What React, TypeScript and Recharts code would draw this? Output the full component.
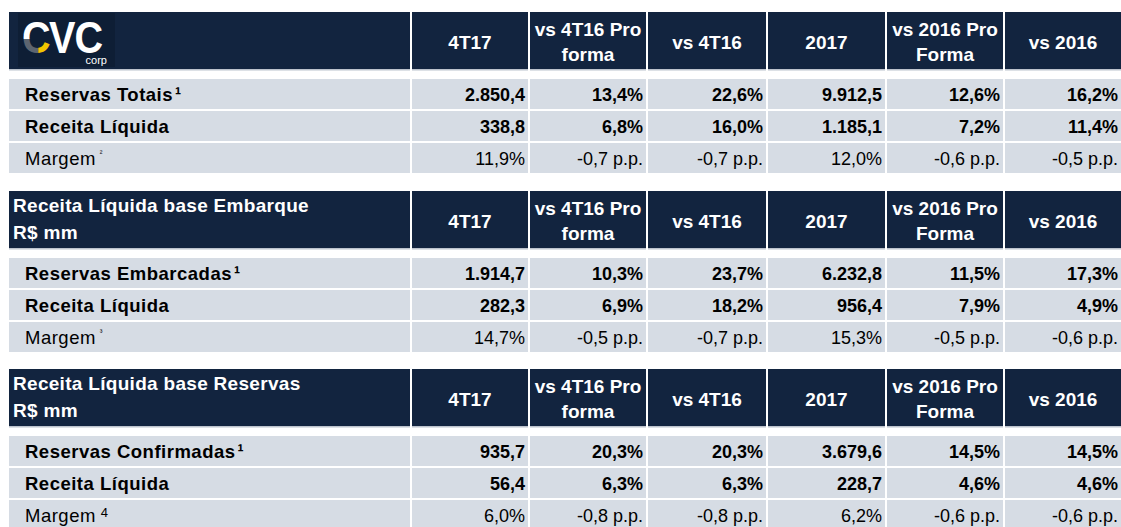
import React from "react";
import { BarChart, Bar, XAxis, YAxis } from "recharts";

// Column headers, same for each block ("|" = line break)
const periodCols = ["4T17", "vs 4T16 Pro|forma", "vs 4T16", "2017", "vs 2016 Pro|Forma", "vs 2016"];

// Block titles (first block carries the logo)
const sectionTitles = ["", "Receita Líquida base Embarque|R$ mm", "Receita Líquida base Reservas|R$ mm"];

// Block 1 - totals
const rowsTotais = ["Reservas Totais", "Receita Líquida", "Margem"];
const notesTotais = ["¹", "", "²"];
const valsTotais = [
  ["2.850,4", "13,4%", "22,6%", "9.912,5", "12,6%", "16,2%"],
  ["338,8", "6,8%", "16,0%", "1.185,1", "7,2%", "11,4%"],
  ["11,9%", "-0,7 p.p.", "-0,7 p.p.", "12,0%", "-0,6 p.p.", "-0,5 p.p."],
];

// Block 2 - base Embarque
const rowsEmbarque = ["Reservas Embarcadas", "Receita Líquida", "Margem"];
const notesEmbarque = ["¹", "", "³"];
const valsEmbarque = [
  ["1.914,7", "10,3%", "23,7%", "6.232,8", "11,5%", "17,3%"],
  ["282,3", "6,9%", "18,2%", "956,4", "7,9%", "4,9%"],
  ["14,7%", "-0,5 p.p.", "-0,7 p.p.", "15,3%", "-0,5 p.p.", "-0,6 p.p."],
];

// Block 3 - base Reservas
const rowsReservas = ["Reservas Confirmadas", "Receita Líquida", "Margem"];
const notesReservas = ["¹", "", "4"];
const valsReservas = [
  ["935,7", "20,3%", "20,3%", "3.679,6", "14,5%", "14,5%"],
  ["56,4", "6,3%", "6,3%", "228,7", "4,6%", "4,6%"],
  ["6,0%", "-0,8 p.p.", "-0,8 p.p.", "6,2%", "-0,6 p.p.", "-0,6 p.p."],
];

const boldRows = [true, true, false];

// layout
const COL_W = [402, 118, 118, 120, 119, 118, 117];
const TABLE_W = COL_W.reduce((a, b) => a + b, 0);
const HEADER_H = 59;
const ROW_H = 32;
const FONT = "'Liberation Sans', Arial, sans-serif";
const NAVY = "#12243f";
const LOGO_BG = "#0e1e35";
const ROW_BG = "#d6dce4";
const noteSizes = [8, 8, 13];

const widthKeys = COL_W.reduce((o: Record<string, number>, w, i) => {
  o[`c${i}`] = w;
  return o;
}, {});

const cellBounds = (col: number, x: number, width: number) => {
  const left = col === 0 ? x : x + 1;
  const right = col === COL_W.length - 1 ? x + width : x + width - 1;
  return { left, w: right - left };
};

const Logo = ({ x, y }: { x: number; y: number }) => {
  const ox = x + 14;
  return (
    <g>
      <defs>
        <clipPath id="cvc-top">
          <rect x={ox} y={y + 8} width={34} height={19} />
        </clipPath>
        <clipPath id="cvc-gray">
          <rect x={ox} y={y + 27} width={17} height={20} />
        </clipPath>
        <clipPath id="cvc-yellow">
          <rect x={ox + 17} y={y + 27} width={17} height={20} />
        </clipPath>
      </defs>
      <rect x={x + 9} y={y + 1} width={97} height={54} fill={LOGO_BG} />
      <g
        fontFamily={FONT}
        fontWeight="bold"
        fontSize={44}
        transform={`translate(${ox},0) scale(0.9,1) translate(${-ox},0)`}
      >
        <text x={ox - 1} y={y + 41} fill="#ffffff" clipPath="url(#cvc-top)">C</text>
        <text x={ox - 1} y={y + 41} fill="#5d6570" clipPath="url(#cvc-gray)">C</text>
        <text x={ox - 1} y={y + 41} fill="#f2c500" clipPath="url(#cvc-yellow)">C</text>
        <text x={ox + 29} y={y + 41} fill="#ffffff" letterSpacing={-1}>VC</text>
      </g>
      <text x={x + 98} y={y + 52} fill="#ffffff" fontFamily={FONT} fontSize={11} textAnchor="end">
        corp
      </text>
    </g>
  );
};

const headerShape = (col: number, section: number) => (p: any) => {
  const { x, y, width, height } = p;
  const { left, w } = cellBounds(col, x, width);
  let content: React.ReactNode = null;
  if (col === 0) {
    if (section === 0) {
      content = <Logo x={x} y={y} />;
    } else {
      const lines = sectionTitles[section].split("|");
      content = lines.map((t, i) => (
        <text
          key={i}
          x={left + 4}
          y={y + 21 + i * 27}
          fill="#ffffff"
          fontFamily={FONT}
          fontWeight="bold"
          fontSize={19}
          letterSpacing={0.3}
        >
          {t}
        </text>
      ));
    }
  } else {
    const lines = periodCols[col - 1].split("|");
    content = lines.map((t, i) => (
      <text
        key={i}
        x={left + w / 2}
        y={y + (lines.length === 1 ? 37 : 24 + i * 25)}
        fill="#ffffff"
        fontFamily={FONT}
        fontWeight="bold"
        fontSize={19}
        textAnchor="middle"
      >
        {t}
      </text>
    ));
  }
  return (
    <g>
      <rect x={left} y={y} width={w} height={height - 2} fill={NAVY} />
      <rect x={left} y={y + height - 2} width={w} height={1.5} fill="#bcc3cd" />
      {content}
    </g>
  );
};

const bodyShape = (col: number, section: number) => (p: any) => {
  const { x, y, width, height, payload } = p;
  const { left, w } = cellBounds(col, x, width);
  const weight = payload.bold ? "bold" : "normal";
  const base = y + height / 2 + 7;
  let content: React.ReactNode;
  if (col === 0) {
    const inline = payload.note === "¹";
    content = (
      <text
        x={left + 16}
        y={base}
        fill="#000000"
        fontFamily={FONT}
        fontWeight={weight}
        fontSize={18.5}
        letterSpacing={0.5}
      >
        {payload.label}
        {payload.note && inline && <tspan dx={2}>{payload.note}</tspan>}
        {payload.note && !inline && (
          <tspan dx={section === 2 ? 5 : 4} dy={section === 2 ? -5 : -9} fontSize={noteSizes[section]}>
            {payload.note}
          </tspan>
        )}
      </text>
    );
  } else {
    content = (
      <text x={left + w - 3} y={base} fill="#000000" fontFamily={FONT} fontWeight={weight} fontSize={18} textAnchor="end">
        {payload.vals[col - 1]}
      </text>
    );
  }
  return (
    <g>
      <rect x={left} y={y} width={w} height={height} fill={ROW_BG} />
      {content}
    </g>
  );
};

const Section = ({
  section,
  labels,
  notes,
  vals,
  marginTop,
}: {
  section: number;
  labels: string[];
  notes: string[];
  vals: string[][];
  marginTop: number;
}) => {
  const headerData = [{ key: "header", ...widthKeys }];
  const bodyData = labels.map((label, r) => ({
    key: `r${r}`,
    label,
    note: notes[r],
    vals: vals[r],
    bold: boldRows[r],
    ...widthKeys,
  }));
  const axes = [
    <XAxis key="x" type="number" domain={[0, TABLE_W]} hide />,
    <YAxis key="y" type="category" dataKey="key" hide />,
  ];
  return (
    <div style={{ marginTop }}>
      <BarChart
        width={TABLE_W}
        height={HEADER_H}
        data={headerData}
        layout="vertical"
        margin={{ top: 0, right: 0, bottom: 0, left: 0 }}
        barCategoryGap={0}
      >
        {axes}
        {COL_W.map((_, i) => (
          <Bar key={i} dataKey={`c${i}`} stackId="h" isAnimationActive={false} shape={headerShape(i, section)} />
        ))}
      </BarChart>
      <div style={{ height: 7 }} />
      <BarChart
        width={TABLE_W}
        height={ROW_H * labels.length}
        data={bodyData}
        layout="vertical"
        margin={{ top: 0, right: 0, bottom: 0, left: 0 }}
        barCategoryGap={1}
      >
        {axes}
        {COL_W.map((_, i) => (
          <Bar key={i} dataKey={`c${i}`} stackId="b" isAnimationActive={false} shape={bodyShape(i, section)} />
        ))}
      </BarChart>
    </div>
  );
};

export default function App() {
  return (
    <div
      style={{
        position: "fixed",
        top: 0,
        left: 0,
        width: 1121,
        height: 527,
        overflow: "hidden",
        background: "#ffffff",
        paddingLeft: 9,
        paddingTop: 12,
        boxSizing: "border-box",
      }}
    >
      <Section section={0} labels={rowsTotais} notes={notesTotais} vals={valsTotais} marginTop={0} />
      <Section section={1} labels={rowsEmbarque} notes={notesEmbarque} vals={valsEmbarque} marginTop={17} />
      <Section section={2} labels={rowsReservas} notes={notesReservas} vals={valsReservas} marginTop={16} />
    </div>
  );
}
